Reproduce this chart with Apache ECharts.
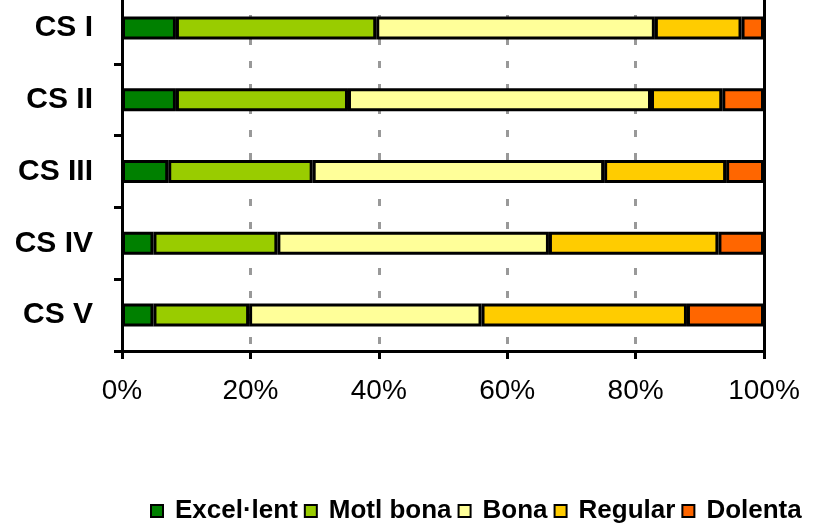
<!DOCTYPE html>
<html>
<head>
<meta charset="utf-8">
<script src="https://cdn.jsdelivr.net/npm/echarts@6/dist/echarts.min.js"></script>
<style>
  html, body { margin: 0; padding: 0; background: #fff; }
  #chart { width: 819px; height: 524px; }
</style>
</head>
<body>
<div id="chart"></div>
<script>
// categories (top to bottom)
var centres = ['CS I', 'CS II', 'CS III', 'CS IV', 'CS V'];
// percentages per rating
var excellent = [8.4, 8.4, 7.2, 4.9, 4.9];
var moltBona = [31.2, 26.8, 22.5, 19.3, 14.9];
var bona = [43.4, 47.2, 45.4, 42.3, 36.2];
var regular = [13.5, 11.1, 19.0, 26.4, 32.0];
var dolenta = [3.5, 6.5, 5.9, 7.1, 12.0];
var ratingNames = ['Excel·lent', 'Motl bona', 'Bona', 'Regular', 'Dolenta'];
var ratingColors = ['#008000', '#99cc00', '#ffff99', '#ffcc00', '#ff6600'];
var xTicks = [0, 20, 40, 60, 80, 100];

var fontName = "'Liberation Sans', Arial, sans-serif";
var myChart = echarts.init(document.getElementById('chart'));

//series from the arrays
var seriesValues = [excellent, moltBona, bona, regular, dolenta];
var series = seriesValues.map(function (vals, i) {
    return {
        name: ratingNames[i],
        type: 'bar',
        stack: 'total',
        barWidth: 23,
        data: vals,
        itemStyle: {
            color: ratingColors[i],
            borderColor: '#000',
            borderWidth: 3
        }
    };
});

var option = {
    animation: false,
    textStyle: { fontFamily: fontName },
    grid: {
        left: 122,
        right: 55,
        top: -8,
        bottom: 173,
        outerBoundsMode: 'none'
    },
    legend: {
        data: ratingNames,
        left: 145,
        top: 493,
        itemWidth: 12,
        itemHeight: 12,
        itemGap: 6,
        icon: 'rect',
        itemStyle: { borderColor: '#000', borderWidth: 2 },
        textStyle: {
            fontFamily: fontName,
            fontSize: 26,
            fontWeight: 'bold',
            color: '#000',
            padding: [0, 0, 0, 7]
        }
    },
    xAxis: {
        type: 'value',
        min: xTicks[0],
        max: xTicks[xTicks.length - 1],
        interval: 20,
        axisLine: { show: true, lineStyle: { color: '#000', width: 3 } },
        axisTick: { show: true, length: 8, lineStyle: { color: '#000', width: 3 } },
        axisLabel: {
            margin: 26,
            fontSize: 28,
            color: '#000',
            fontFamily: fontName,
            formatter: '{value}%'
        },
        splitLine: {
            show: true,
            lineStyle: { color: '#999', width: 3, type: [7, 16] }
        }
    },
    yAxis: [{
        type: 'category',
        data: centres,
        inverse: true,
        axisLine: { show: true, lineStyle: { color: '#000', width: 3 } },
        axisTick: { show: true, length: 8, lineStyle: { color: '#000', width: 3 } },
        axisLabel: {
            margin: 29,
            fontSize: 30,
            fontWeight: 'bold',
            color: '#000',
            fontFamily: fontName
        }
    }, {
        // vora dreta del gràfic
        type: 'category',
        data: centres,
        inverse: true,
        position: 'right',
        axisLine: { show: true, lineStyle: { color: '#000', width: 3 } },
        axisTick: { show: false },
        axisLabel: { show: false }
    }],
    series: series
};
myChart.setOption(option);
</script>
</body>
</html>
